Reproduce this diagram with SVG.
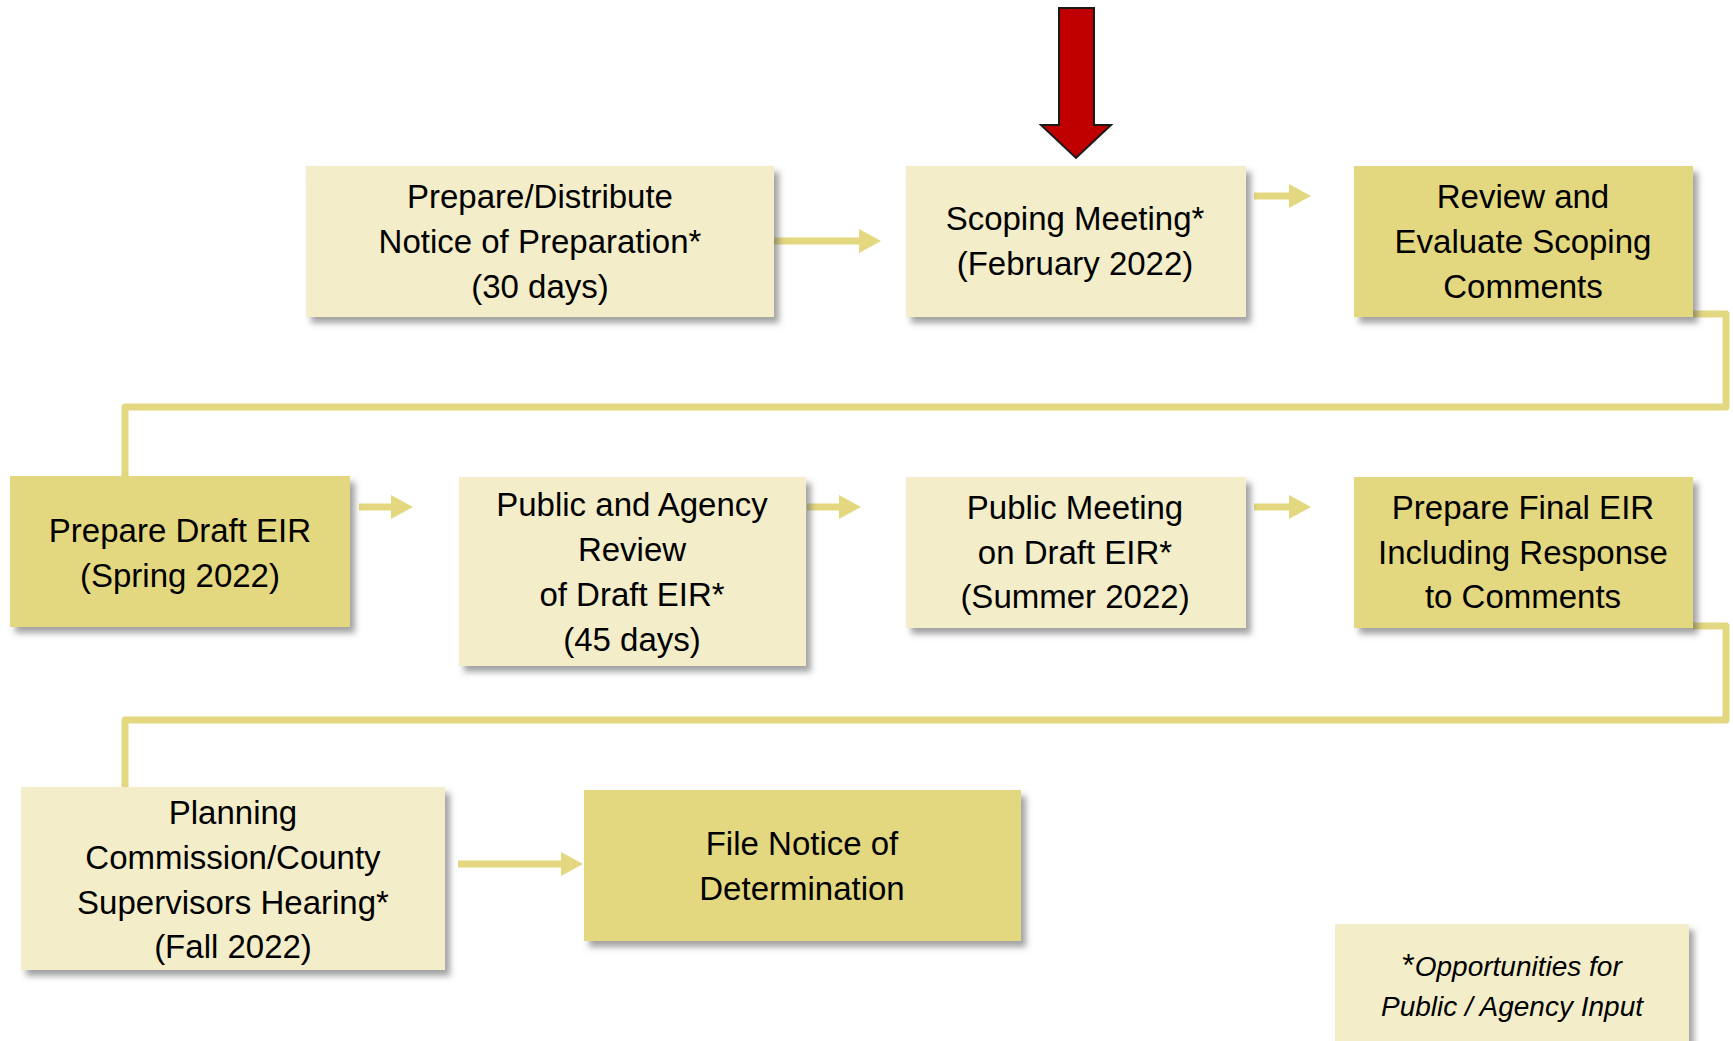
<svg xmlns="http://www.w3.org/2000/svg" width="1733" height="1041" viewBox="0 0 1733 1041">
<defs>
<filter id="sh" x="-10%" y="-10%" width="130%" height="140%">
<feDropShadow dx="5" dy="6" stdDeviation="3" flood-color="#555" flood-opacity="0.55"/>
</filter>
<style>
.light{fill:#F3EDC9;filter:url(#sh)}
.dark{fill:#E3D77F;filter:url(#sh)}
.t{font-family:"Liberation Sans",Arial,sans-serif;font-size:33px;fill:#000;text-anchor:middle}
.fn{font-family:"Liberation Sans",Arial,sans-serif;font-size:28px;font-style:italic;fill:#000;text-anchor:middle}
.conn{fill:none;stroke:#E3D77F;stroke-width:7;stroke-linejoin:round}
.arr{fill:#E3D77F}
</style>
</defs>
<rect width="1733" height="1041" fill="#fff"/>
<g id="connectors">
<path class="conn" d="M1693,314 H1726 V407 H125 V476"/>
<path class="conn" d="M1693,626 H1726 V720 H125 V787"/>
<path class="arr" d="M774,237.5 H859 V229 L881,241 L859,253 V244.5 H774 Z"/>
<path class="arr" d="M1254,192.5 H1289 V184 L1311,196 L1289,208 V199.5 H1254 Z"/>
<path class="arr" d="M359,503.5 H391 V495 L413,507 L391,519 V510.5 H359 Z"/>
<path class="arr" d="M807,503.5 H839 V495 L861,507 L839,519 V510.5 H807 Z"/>
<path class="arr" d="M1254,503.5 H1289 V495 L1311,507 L1289,519 V510.5 H1254 Z"/>
<path class="arr" d="M458,860.5 H561 V852 L583,864 L561,876 V867.5 H458 Z"/>
<path fill="#C00000" stroke="#1a1a1a" stroke-width="2" d="M1059,8 H1094 V125 H1111 L1076,158 L1041,125 H1059 Z"/>
</g>
<g id="n1">
<rect class="light" x="306" y="166" width="468" height="151"/>
<text class="t" x="540" y="208">Prepare/Distribute</text>
<text class="t" x="540" y="253">Notice of Preparation*</text>
<text class="t" x="540" y="298">(30 days)</text>
</g>
<g id="n2">
<rect class="light" x="906" y="166" width="340" height="151"/>
<text class="t" x="1075" y="230">Scoping Meeting*</text>
<text class="t" x="1075" y="275">(February 2022)</text>
</g>
<g id="n3">
<rect class="dark" x="1354" y="166" width="339" height="151"/>
<text class="t" x="1523" y="208">Review and</text>
<text class="t" x="1523" y="253">Evaluate Scoping</text>
<text class="t" x="1523" y="298">Comments</text>
</g>
<g id="n4">
<rect class="dark" x="10" y="476" width="340" height="151"/>
<text class="t" x="180" y="542">Prepare Draft EIR</text>
<text class="t" x="180" y="587">(Spring 2022)</text>
</g>
<g id="n5">
<rect class="light" x="459" y="477" width="347" height="189"/>
<text class="t" x="632" y="516">Public and Agency</text>
<text class="t" x="632" y="561">Review</text>
<text class="t" x="632" y="606">of Draft EIR*</text>
<text class="t" x="632" y="651">(45 days)</text>
</g>
<g id="n6">
<rect class="light" x="906" y="477" width="340" height="151"/>
<text class="t" x="1075" y="519">Public Meeting</text>
<text class="t" x="1075" y="564">on Draft EIR*</text>
<text class="t" x="1075" y="608">(Summer 2022)</text>
</g>
<g id="n7">
<rect class="dark" x="1354" y="477" width="339" height="151"/>
<text class="t" x="1523" y="519">Prepare Final EIR</text>
<text class="t" x="1523" y="564">Including Response</text>
<text class="t" x="1523" y="608">to Comments</text>
</g>
<g id="n8">
<rect class="light" x="21" y="787" width="424" height="183"/>
<text class="t" x="233" y="824">Planning</text>
<text class="t" x="233" y="869">Commission/County</text>
<text class="t" x="233" y="914">Supervisors Hearing*</text>
<text class="t" x="233" y="958">(Fall 2022)</text>
</g>
<g id="n9">
<rect class="dark" x="584" y="790" width="437" height="151"/>
<text class="t" x="802" y="855">File Notice of</text>
<text class="t" x="802" y="900">Determination</text>
</g>
<g id="legend">
<rect class="light" x="1335" y="924" width="354" height="130"/>
<text class="fn" x="1512" y="976"><tspan font-style="normal" font-size="32">*</tspan>Opportunities for</text>
<text class="fn" x="1512" y="1016">Public / Agency Input</text>
</g>
</svg>
